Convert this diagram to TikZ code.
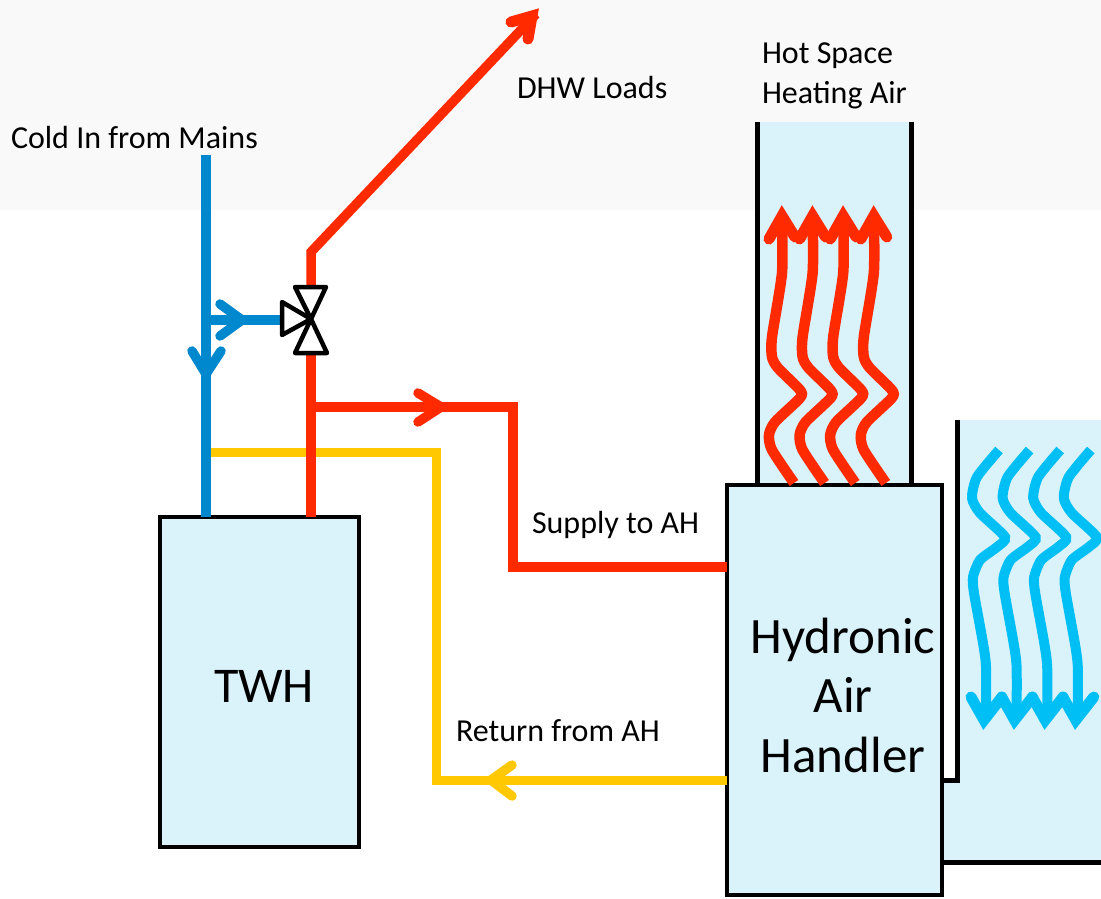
\documentclass[tikz,border=0pt]{standalone}
\usepackage{fontspec}
\setmainfont{Carlito}
\usepackage{xcolor}
\usetikzlibrary{positioning, calc}

\definecolor{ductblue}{HTML}{DAF3FB}
\definecolor{topgray}{HTML}{F9F9F9}
\definecolor{coldblue}{HTML}{0088CE}
\definecolor{hotred}{HTML}{FF2A00}
\definecolor{returnyellow}{HTML}{FFC800}
\definecolor{airblue}{HTML}{00BFF5}

\begin{document}
\begin{tikzpicture}[
    x=1pt, y=-1pt,
    every node/.style={font=\fontsize{32}{38}\selectfont, align=left, inner sep=0pt, outer sep=0pt},
    tank/.style={rectangle, draw=black, fill=ductblue, line width=4.5pt, anchor=north west},
    bigtext/.style={font=\fontsize{50}{60}\selectfont, align=center},
    wall/.style={draw=black, line width=5pt, line join=miter},
    coldpipe/.style={draw=coldblue, line width=9.5pt},
    hotpipe/.style={draw=hotred, line width=10.5pt},
    returnpipe/.style={draw=returnyellow, line width=9pt},
    chevron/.style={line width=9.5pt, line cap=round, line join=miter, miter limit=10},
    valvepart/.style={draw=black, fill=white, line width=4.5pt, line join=round},
    pics/hotwave/.style={code={
        \draw [draw=hotred, line width=10.5pt] plot [smooth, tension=0.4] coordinates {(0,0) (-22,-33) (-25,-48) (-19,-61) (6,-85) (6,-93) (-16,-115) (-22,-126) (-22,-146) (-12,-210) (-12,-263)};
        \draw [chevron, line width=11pt, draw=hotred] (-25,-244) -- (-12,-267) -- (1,-246);
    }},
    pics/coldwave/.style={code={
        \draw [draw=airblue, line width=10pt] plot [smooth, tension=0.4] coordinates {(0,0) (-22,27) (-27,48) (-19,63) (6,87) (-2,97) (-19,110) (-26,127) (-25,143) (-16,193) (-13,217) (-13,268)};
        \draw [chevron, line width=11pt, draw=airblue] (-28,247) -- (-15,270) -- (3,247);
    }}
]
\useasboundingbox (0,0) rectangle (1101,898);

% Background
\fill [topgray] (0,0) rectangle (1101,210);

% Ducts
\fill [ductblue] (757,122) rectangle (911,485);
\fill [ductblue] (958,420) -- (1101,420) -- (1101,862) -- (942,862) -- (942,780) -- (958,780) -- cycle;
\coordinate (hottopl) at (757,122);
\coordinate (hottopr) at (911,122);
\coordinate (coldtop) at (957,420);
\coordinate (coldfoot) at (957,780);
\coordinate (coldend) at (1101,862);

% Nodes
\node (twh) [tank, minimum width=199pt, minimum height=330pt] at (160,517) {};
\node (ah) [tank, minimum width=215pt, minimum height=410pt] at (727,485) {};
\node (twhlabel) [bigtext] at (264,686) {TWH};
\node (ahlabel) [bigtext, font=\fontsize{51}{59.5}\selectfont] at (843,695) {Hydronic\\Air\\Handler};

\node (mainslabel) [anchor=base west] at (11,148) {Cold In from Mains};
\node (dhwlabel) [anchor=base west] at (517,98) {DHW Loads};
\node (hotairlabel) [anchor=west, align=left, font=\fontsize{32}{40}\selectfont] at (762,76) {Hot Space\\Heating Air};
\node (supplylabel) [anchor=base west] at (532,533) {Supply to AH};
\node (returnlabel) [anchor=base west] at (456,741) {Return from AH};

\coordinate (mainsin) at (206,155);
\coordinate (coldtee) at (206,320);
\coordinate (returntee) at (206,452);
\coordinate (valvein) at (282,320);
\coordinate (valvecentre) at (311,319);
\coordinate (valvetop) at (311,287);
\coordinate (valvebot) at (311,353);
\coordinate (dhwbend) at (311,252);
\coordinate (dhwend) at (536,14);
\coordinate (suppytee) at (311,407);
\coordinate (supplybend) at (513,407);
\coordinate (returnbend) at (436,780);

% Walls
\draw [wall] (hottopl) -- (hottopl |- ah.north);
\draw [wall] (hottopr) -- (hottopr |- ah.north);
\draw [wall] (coldtop) -- (coldfoot) -- (coldfoot -| ah.east);
\draw [wall] (coldend -| ah.east) -- (coldend);

% Pipes
\draw [returnpipe] (returntee) -| (returnbend) -- (returnbend -| ah.west);
\draw [hotpipe] (valvebot) -- (valvebot |- twh.north);
\draw [hotpipe, line width=9.5pt, line join=miter] (valvetop) -- (dhwbend) -- (dhwend);
\draw [hotpipe] (suppytee) -- (supplybend) |- (ah.west |- 0,567);
\draw [coldpipe] (mainsin) -- (mainsin |- twh.north);
\draw [coldpipe] (coldtee) -- (valvein);

% Chevrons on the pipes
\draw [chevron, draw=coldblue] (192,351) -- (206,374) -- (221,351);
\draw [chevron, draw=coldblue] (220,304) -- (242,320) -- (220,336);
\draw [chevron, draw=hotred] (418,393) -- (441,407) -- (418,422);
\draw [chevron, draw=returnyellow] (512,765) -- (491,780) -- (512,796);
\draw [chevron, line width=11pt, draw=hotred] (511,22) -- (532,16) -- (528,39);

% Valve
\draw [valvepart] (valvecentre) -- (295,287) -- (326,287) -- cycle;
\draw [valvepart] (valvecentre) -- (295,353) -- (327,353) -- cycle;
\draw [valvepart] (valvecentre) -- (282,302) -- (282,335) -- cycle;

% Hot air
\pic at (794,483) {hotwave};
\pic at (824.6,483) {hotwave};
\pic at (855.2,483) {hotwave};
\pic at (885.8,483) {hotwave};

% Cold air
\pic at (999,450) {coldwave};
\pic at (1029.6,450) {coldwave};
\pic at (1060.2,450) {coldwave};
\pic at (1090.8,450) {coldwave};

\end{tikzpicture}
\end{document}
